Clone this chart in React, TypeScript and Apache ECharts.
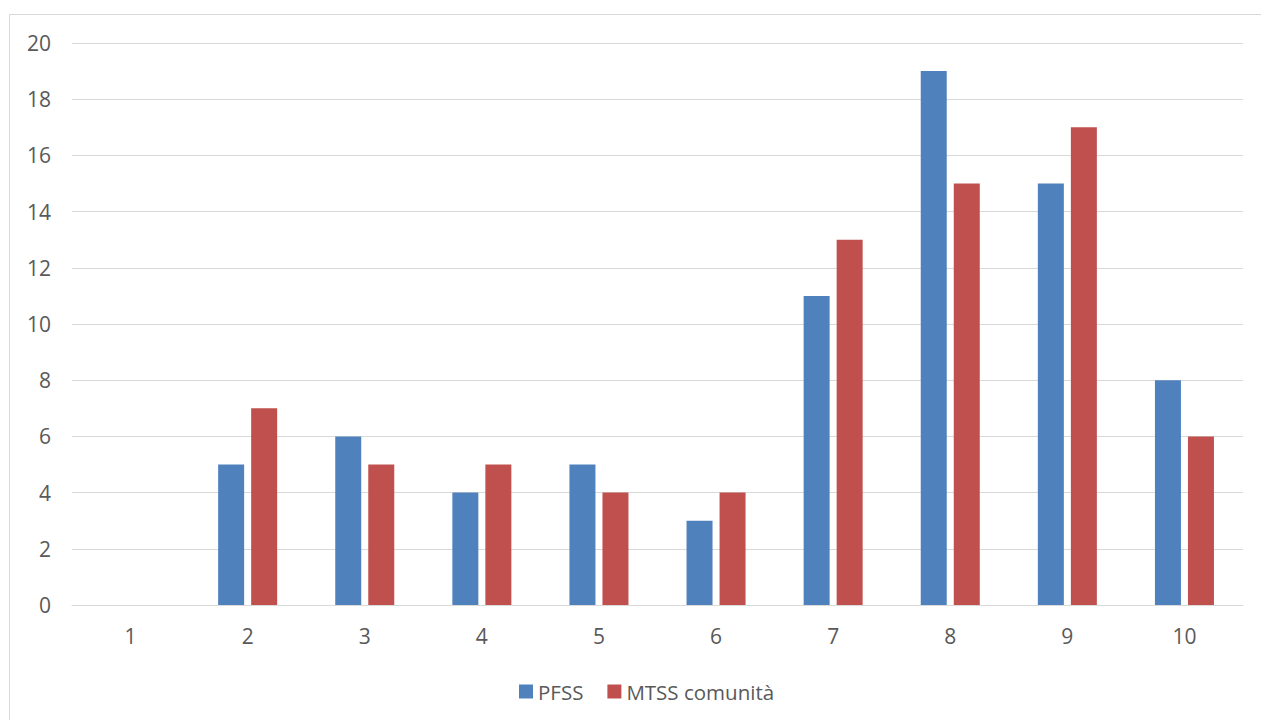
import React, { useEffect, useRef } from "react";
import * as echarts from "echarts";

const categories = ["1", "2", "3", "4", "5", "6", "7", "8", "9", "10"];
const pfss = [0, 5, 6, 4, 5, 3, 11, 19, 15, 8];
const mtss = [0, 7, 5, 5, 4, 4, 13, 15, 17, 6];
const seriesNames = ["PFSS", "MTSS comunità"];

const FONT = "'Open Sans', 'Noto Sans', sans-serif";

export default function App() {
  const ref = useRef<HTMLDivElement>(null);
  useEffect(() => {
    if (!ref.current) return;
    const chart = echarts.init(ref.current, undefined, { renderer: "svg" });
    chart.setOption({
      animation: false,
      backgroundColor: "#ffffff",
      textStyle: { fontFamily: FONT },
      graphic: [
        {
          type: "rect",
          shape: { x: 9.5, y: 14.5, width: 1262, height: 720 },
          style: { fill: "none", stroke: "#d9d9d9", lineWidth: 1 },
          silent: true,
        },
      ],
      grid: { left: 72, right: 18, top: 43, bottom: 115, containLabel: false },
      legend: {
        data: seriesNames,
        top: 676,
        left: 514,
        itemWidth: 14,
        itemHeight: 14,
        itemGap: 24,
        icon: "rect",
        textStyle: { color: "#595959", fontSize: 20.5, fontFamily: FONT },
      },
      xAxis: {
        type: "category",
        data: categories,
        axisLine: { lineStyle: { color: "#d9d9d9", width: 1 } },
        axisTick: { show: false },
        axisLabel: { color: "#595959", fontSize: 21, margin: 20, fontFamily: FONT },
      },
      yAxis: {
        type: "value",
        min: 0,
        max: 20,
        interval: 2,
        axisLine: { show: false },
        axisTick: { show: false },
        splitLine: { lineStyle: { color: "#d9d9d9", width: 1 } },
        axisLabel: { color: "#595959", fontSize: 21, margin: 21, fontFamily: FONT },
      },
      series: [
        {
          name: seriesNames[0],
          type: "bar",
          data: pfss,
          barWidth: 26,
          barGap: "27%",
          itemStyle: { color: "#4f81bd" },
        },
        {
          name: seriesNames[1],
          type: "bar",
          data: mtss,
          barWidth: 26,
          itemStyle: { color: "#c0504d" },
        },
      ],
    });
    return () => chart.dispose();
  }, []);
  return (
    <div
      ref={ref}
      style={{ position: "absolute", left: 0, top: 0, width: 1261, height: 720 }}
    />
  );
}
